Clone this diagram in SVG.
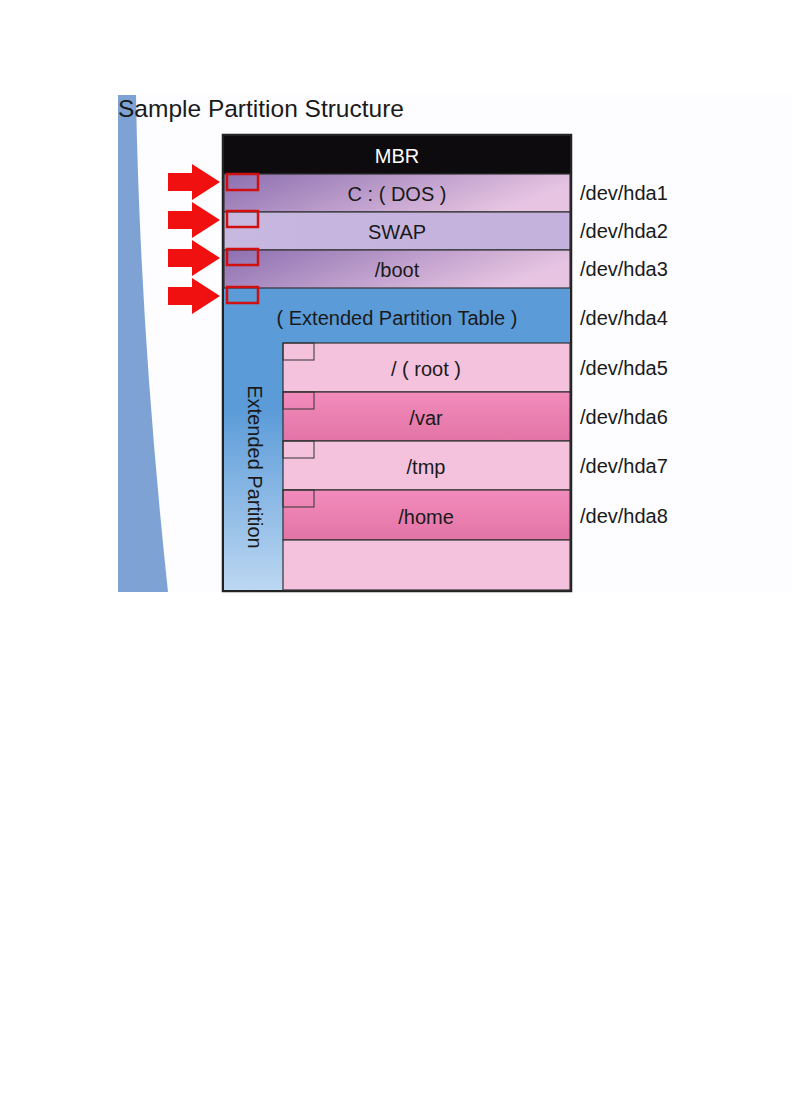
<svg xmlns="http://www.w3.org/2000/svg" width="792" height="1120" viewBox="0 0 792 1120">
<style>
text{font-family:"Liberation Sans",Arial,sans-serif;fill:#1a1a1a}
.l{font-size:20px}
.c{font-size:20px;text-anchor:middle}
.b{stroke:#333;stroke-width:1.2}
.rb{fill:none;stroke:#d01010;stroke-width:2.5}
.sb{fill:none;stroke:#333;stroke-width:1}
.ar{fill:#f01010}
</style>
<defs>
<linearGradient id="pur" x1="0" y1="0" x2="1" y2="0.3"><stop offset="0" stop-color="#8c6fb0"/><stop offset="1" stop-color="#e6c4e2"/></linearGradient>
<linearGradient id="swap" x1="0" y1="0" x2="1" y2="0"><stop offset="0" stop-color="#c7b8e0"/><stop offset="1" stop-color="#c4b0dc"/></linearGradient>
<linearGradient id="dp" x1="0" y1="0" x2="0" y2="1"><stop offset="0" stop-color="#f28cbc"/><stop offset="1" stop-color="#e274a6"/></linearGradient>
<linearGradient id="ext" x1="0" y1="0" x2="0" y2="1"><stop offset="0.4" stop-color="#5b9bd8"/><stop offset="1" stop-color="#bcd7f2"/></linearGradient>
<clipPath id="cp"><rect x="118" y="95" width="674" height="497"/></clipPath>
</defs>
<g clip-path="url(#cp)">
<rect x="118" y="95" width="674" height="497" fill="#fdfcff"/>
<path d="M118 95 L136 95 Q140 330 168 592 L118 592 Z" fill="#7fa2d4"/>
</g>
<text x="118" y="117" style="font-size:24.5px">Sample Partition Structure</text>
<g id="frame">
<rect x="223" y="135" width="348" height="456" fill="#5b9bd8" stroke="#222" stroke-width="2.5"/>
<rect x="224" y="288" width="346" height="302" fill="url(#ext)"/>
</g>
<g id="mbr"><rect x="224" y="136" width="346" height="38" fill="#0d0b0d"/><text x="397" y="163" class="c" style="fill:#fff">MBR</text></g>
<g id="dos"><rect x="224" y="174" width="346" height="38" fill="url(#pur)" class="b"/><text x="397" y="201" class="c">C : ( DOS )</text></g>
<g id="swap"><rect x="224" y="212" width="346" height="38" fill="url(#swap)" class="b"/><text x="397" y="239" class="c">SWAP</text></g>
<g id="boot"><rect x="224" y="250" width="346" height="38" fill="url(#pur)" class="b"/><text x="397" y="277" class="c">/boot</text></g>
<g id="extended"><text x="397" y="325" class="c">( Extended Partition Table )</text>
<text transform="translate(248,467) rotate(90)" class="c">Extended Partition</text></g>
<g id="root"><rect x="283" y="343" width="287" height="49" fill="#f5c2de" class="b"/><rect x="283" y="343" width="31" height="17" class="sb"/><text x="426" y="376" class="c">/ ( root )</text></g>
<g id="var"><rect x="283" y="392" width="287" height="49" fill="url(#dp)" class="b"/><rect x="283" y="392" width="31" height="17" class="sb"/><text x="426" y="425" class="c">/var</text></g>
<g id="tmp"><rect x="283" y="441" width="287" height="49" fill="#f5c2de" class="b"/><rect x="283" y="441" width="31" height="17" class="sb"/><text x="426" y="474" class="c">/tmp</text></g>
<g id="home"><rect x="283" y="490" width="287" height="50" fill="url(#dp)" class="b"/><rect x="283" y="490" width="31" height="17" class="sb"/><text x="426" y="524" class="c">/home</text></g>
<g id="free"><rect x="283" y="540" width="287" height="50" fill="#f5c2de" class="b"/></g>
<g id="markers">
<rect x="227" y="174" width="31" height="16" class="rb"/>
<rect x="227" y="211" width="31" height="16" class="rb"/>
<rect x="227" y="249" width="31" height="16" class="rb"/>
<rect x="227" y="287" width="31" height="16" class="rb"/>
</g>
<g id="connectors">
<path class="ar" d="M168 173 H192 V164 L220 182 L192 200 V191 H168 Z"/>
<path class="ar" d="M168 211 H192 V202 L220 220 L192 238 V229 H168 Z"/>
<path class="ar" d="M168 249 H192 V240 L220 258 L192 276 V267 H168 Z"/>
<path class="ar" d="M168 287 H192 V278 L220 296 L192 314 V305 H168 Z"/>
</g>
<g id="labels">
<text x="580" y="200" class="l">/dev/hda1</text>
<text x="580" y="238" class="l">/dev/hda2</text>
<text x="580" y="276" class="l">/dev/hda3</text>
<text x="580" y="325" class="l">/dev/hda4</text>
<text x="580" y="375" class="l">/dev/hda5</text>
<text x="580" y="424" class="l">/dev/hda6</text>
<text x="580" y="473" class="l">/dev/hda7</text>
<text x="580" y="523" class="l">/dev/hda8</text>
</g>
</svg>
